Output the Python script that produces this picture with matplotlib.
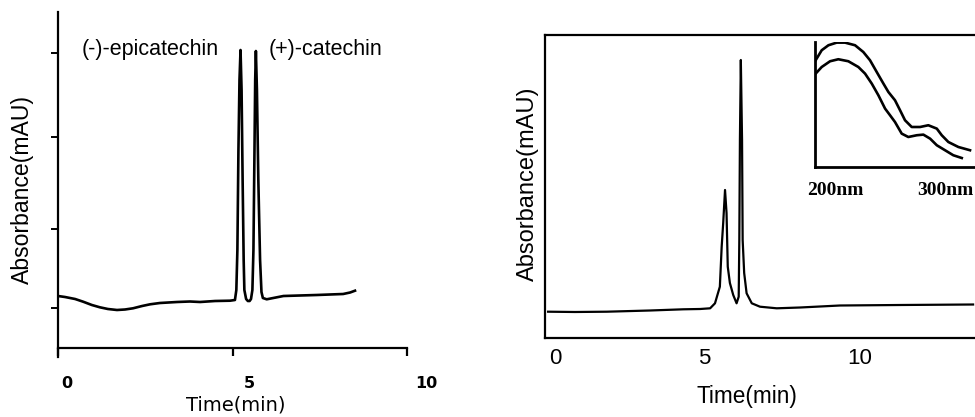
import matplotlib
matplotlib.use("Agg")
import matplotlib.pyplot as plt
import matplotlib.transforms as mtrans
from matplotlib.patches import Rectangle

# ---------------- data ----------------
# Left chromatogram (standards)
left_time = [0.00, 0.20, 0.49, 0.72, 0.97, 1.20, 1.43, 1.69, 1.92, 2.15, 2.41, 2.64, 2.92,
             3.41, 3.78, 4.07, 4.50, 4.93, 5.07, 5.11, 5.14, 5.17, 5.20, 5.23, 5.26, 5.29,
             5.32, 5.34, 5.39, 5.44, 5.49, 5.53, 5.57, 5.60, 5.63, 5.65, 5.67, 5.70, 5.74,
             5.79, 5.83, 5.87, 5.98, 6.46, 6.93, 7.41, 7.79, 8.17, 8.37, 8.51]
left_abs = [52, 51, 49, 46.3, 43, 40.7, 39, 38, 38.5, 39.7, 42, 43.7, 45,
            46, 46.5, 46, 47, 47.3, 48, 58, 98, 198, 268, 298, 258, 168,
            88, 58, 49, 47, 47, 49, 58, 98, 198, 268, 297, 258, 168,
            88, 56, 50, 48.7, 52, 52.5, 53, 53.5, 54, 55.5, 57.3]
left_yticks = [40, 119, 211, 295]
left_xticks = [0, 5, 10]
left_xticklabels = ["0", "5", "10"]
peak_names = ["(-)-epicatechin", "(+)-catechin"]

# Right chromatogram (sample)
right_time = [-0.26, 0.62, 1.67, 3.09, 4.19, 4.74, 5.07, 5.23, 5.39, 5.45, 5.50, 5.56, 5.61,
              5.65, 5.72, 5.83, 5.94, 6.01, 6.03, 6.05, 6.08, 6.12, 6.14, 6.19, 6.27, 6.44,
              6.71, 7.26, 8.03, 9.34, 11.32, 13.72]
right_abs = [26.3, 26, 26.3, 27.5, 28.7, 29, 29.7, 34.7, 51.3, 91.3, 115, 148, 125,
             71.3, 55, 43, 34.7, 41.3, 98, 198, 278, 198, 98, 65, 44.7, 34.7,
             31.3, 29.7, 30.5, 32.5, 33, 33.5]
right_xticks = [0, 5, 10]
right_xticklabels = ["0", "5", "10"]

# Inset UV spectra
uv1_nm = [182.4, 187.9, 194.0, 201.5, 209.1, 218.2, 225.7, 231.8, 237.9, 244.0, 248.5,
          254.5, 259.1, 263.6, 269.7, 277.3, 284.8, 292.5, 297.0, 303.0, 312.1, 322.7]
uv1_abs = [0.854, 0.934, 0.974, 0.995, 0.995, 0.974, 0.920, 0.854, 0.760, 0.667, 0.600,
           0.534, 0.454, 0.374, 0.320, 0.320, 0.334, 0.307, 0.254, 0.200, 0.160, 0.134]
uv2_nm = [182.4, 187.9, 195.5, 203.0, 212.1, 221.2, 227.3, 233.4, 239.4, 245.5, 250.0,
          254.5, 260.6, 266.6, 274.3, 280.3, 286.4, 292.5, 300.0, 307.5, 315.2]
uv2_abs = [0.747, 0.800, 0.846, 0.862, 0.846, 0.800, 0.747, 0.667, 0.574, 0.467, 0.414,
           0.360, 0.267, 0.240, 0.254, 0.259, 0.227, 0.174, 0.134, 0.094, 0.072]
uv_ticks = [200, 300]
uv_ticklabels = ["200nm", "300nm"]

# ---------------- figure ----------------
W, H = 975, 417
fig = plt.figure(figsize=(W / 100, H / 100), dpi=100)

def rect(x0, y_top, x1, y_bot):
    return [x0 / W, (H - y_bot) / H, (x1 - x0) / W, (y_bot - y_top) / H]

def shift_labels(ax, offsets):
    for lab, (dx, dy) in zip(ax.get_xticklabels(), offsets):
        lab.set_transform(lab.get_transform() +
                          mtrans.ScaledTranslation(dx / 100, -dy / 100, fig.dpi_scale_trans))

sans = ["Liberation Sans", "DejaVu Sans"]

# ---------- left panel ----------
axL = fig.add_axes(rect(58, 12, 407, 357))
axL.plot(left_time, left_abs, color="black", lw=1.9, solid_joinstyle="round")
axL.set_xlim(0, 10)
axL.set_ylim(-9, 336)
for s in ["top", "right"]:
    axL.spines[s].set_visible(False)
axL.spines["bottom"].set_position(("data", 0))
for s in ["left", "bottom"]:
    axL.spines[s].set_linewidth(1.6)
axL.set_yticks(left_yticks)
axL.set_yticklabels([])
axL.tick_params(axis="y", direction="out", length=5, width=1.4)
axL.set_xticks(left_xticks)
axL.set_xticklabels(left_xticklabels, fontfamily="DejaVu Sans", fontweight="bold", fontsize=11.5)
axL.tick_params(axis="x", direction="out", length=6, width=1.6, pad=14.5)
shift_labels(axL, [(9, 0), (17, 0), (19, 0)])

axL.set_ylabel("Absorbance(mAU)", fontfamily=sans, fontsize=16.6)
axL.yaxis.label.set_va("center")
axL.yaxis.set_label_coords((22 - 58) / 349, (357 - 189) / 345)
axL.set_xlabel("Time(min)", fontfamily="DejaVu Sans", fontsize=14)
axL.xaxis.label.set_va("center")
axL.xaxis.set_label_coords((236 - 58) / 349, (357 - 405) / 345)

axL.text(82 / W, (H - 49) / H, peak_names[0], transform=fig.transFigure,
         ha="left", va="center", fontfamily=sans, fontsize=15.5)
t2 = axL.text(269 / W, (H - 49) / H, peak_names[1], transform=fig.transFigure,
              ha="left", va="center", fontfamily=sans, fontsize=15.5)
clip = Rectangle((0, 0), 377 / W, 1, transform=fig.transFigure)
t2.set_clip_path(clip)

# ---------- right panel ----------
x_left_px, px_per_min = 556, 30.4
axR = fig.add_axes(rect(545, 35, 1000, 338))
axR.plot(right_time, right_abs, color="black", lw=1.6, solid_joinstyle="round")
axR.set_xlim((545 - x_left_px) / px_per_min, (1000 - x_left_px) / px_per_min)
axR.set_ylim(0, 303)
for s in axR.spines.values():
    s.set_linewidth(1.6)
axR.set_yticks([])
axR.set_xticks(right_xticks)
axR.set_xticklabels(right_xticklabels, fontfamily=sans, fontsize=16)
axR.tick_params(axis="x", length=0, pad=7)
shift_labels(axR, [(-1, 0), (-4, 0), (0, 0)])
axR.set_ylabel("Absorbance(mAU)", fontfamily=sans, fontsize=17)
axR.yaxis.label.set_va("center")
axR.yaxis.set_label_coords((528 - 545) / 455, (338 - 184) / 303)
axR.set_xlabel("Time(min)", fontfamily=sans, fontsize=16.3)
axR.xaxis.label.set_va("center")
axR.xaxis.set_label_coords((747 - 545) / 455, (338 - 396) / 303)

# ---------- inset ----------
axI = fig.add_axes(rect(815, 42, 984, 167))
axI.plot(uv1_nm, uv1_abs, color="black", lw=1.9, solid_joinstyle="round")
axI.plot(uv2_nm, uv2_abs, color="black", lw=1.9, solid_joinstyle="round")
axI.set_xlim(181.8, 335.4)
axI.set_ylim(0, 1.0)
axI.patch.set_alpha(0)
for s in ["top", "right"]:
    axI.spines[s].set_visible(False)
for s in ["left", "bottom"]:
    axI.spines[s].set_linewidth(2)
axI.set_yticks([])
axI.set_xticks(uv_ticks)
axI.set_xticklabels(uv_ticklabels, fontfamily=["Liberation Serif", "DejaVu Serif"],
                    fontweight="bold", fontsize=14)
axI.tick_params(axis="x", length=0, pad=11)

fig.savefig("out.png", dpi=100)
